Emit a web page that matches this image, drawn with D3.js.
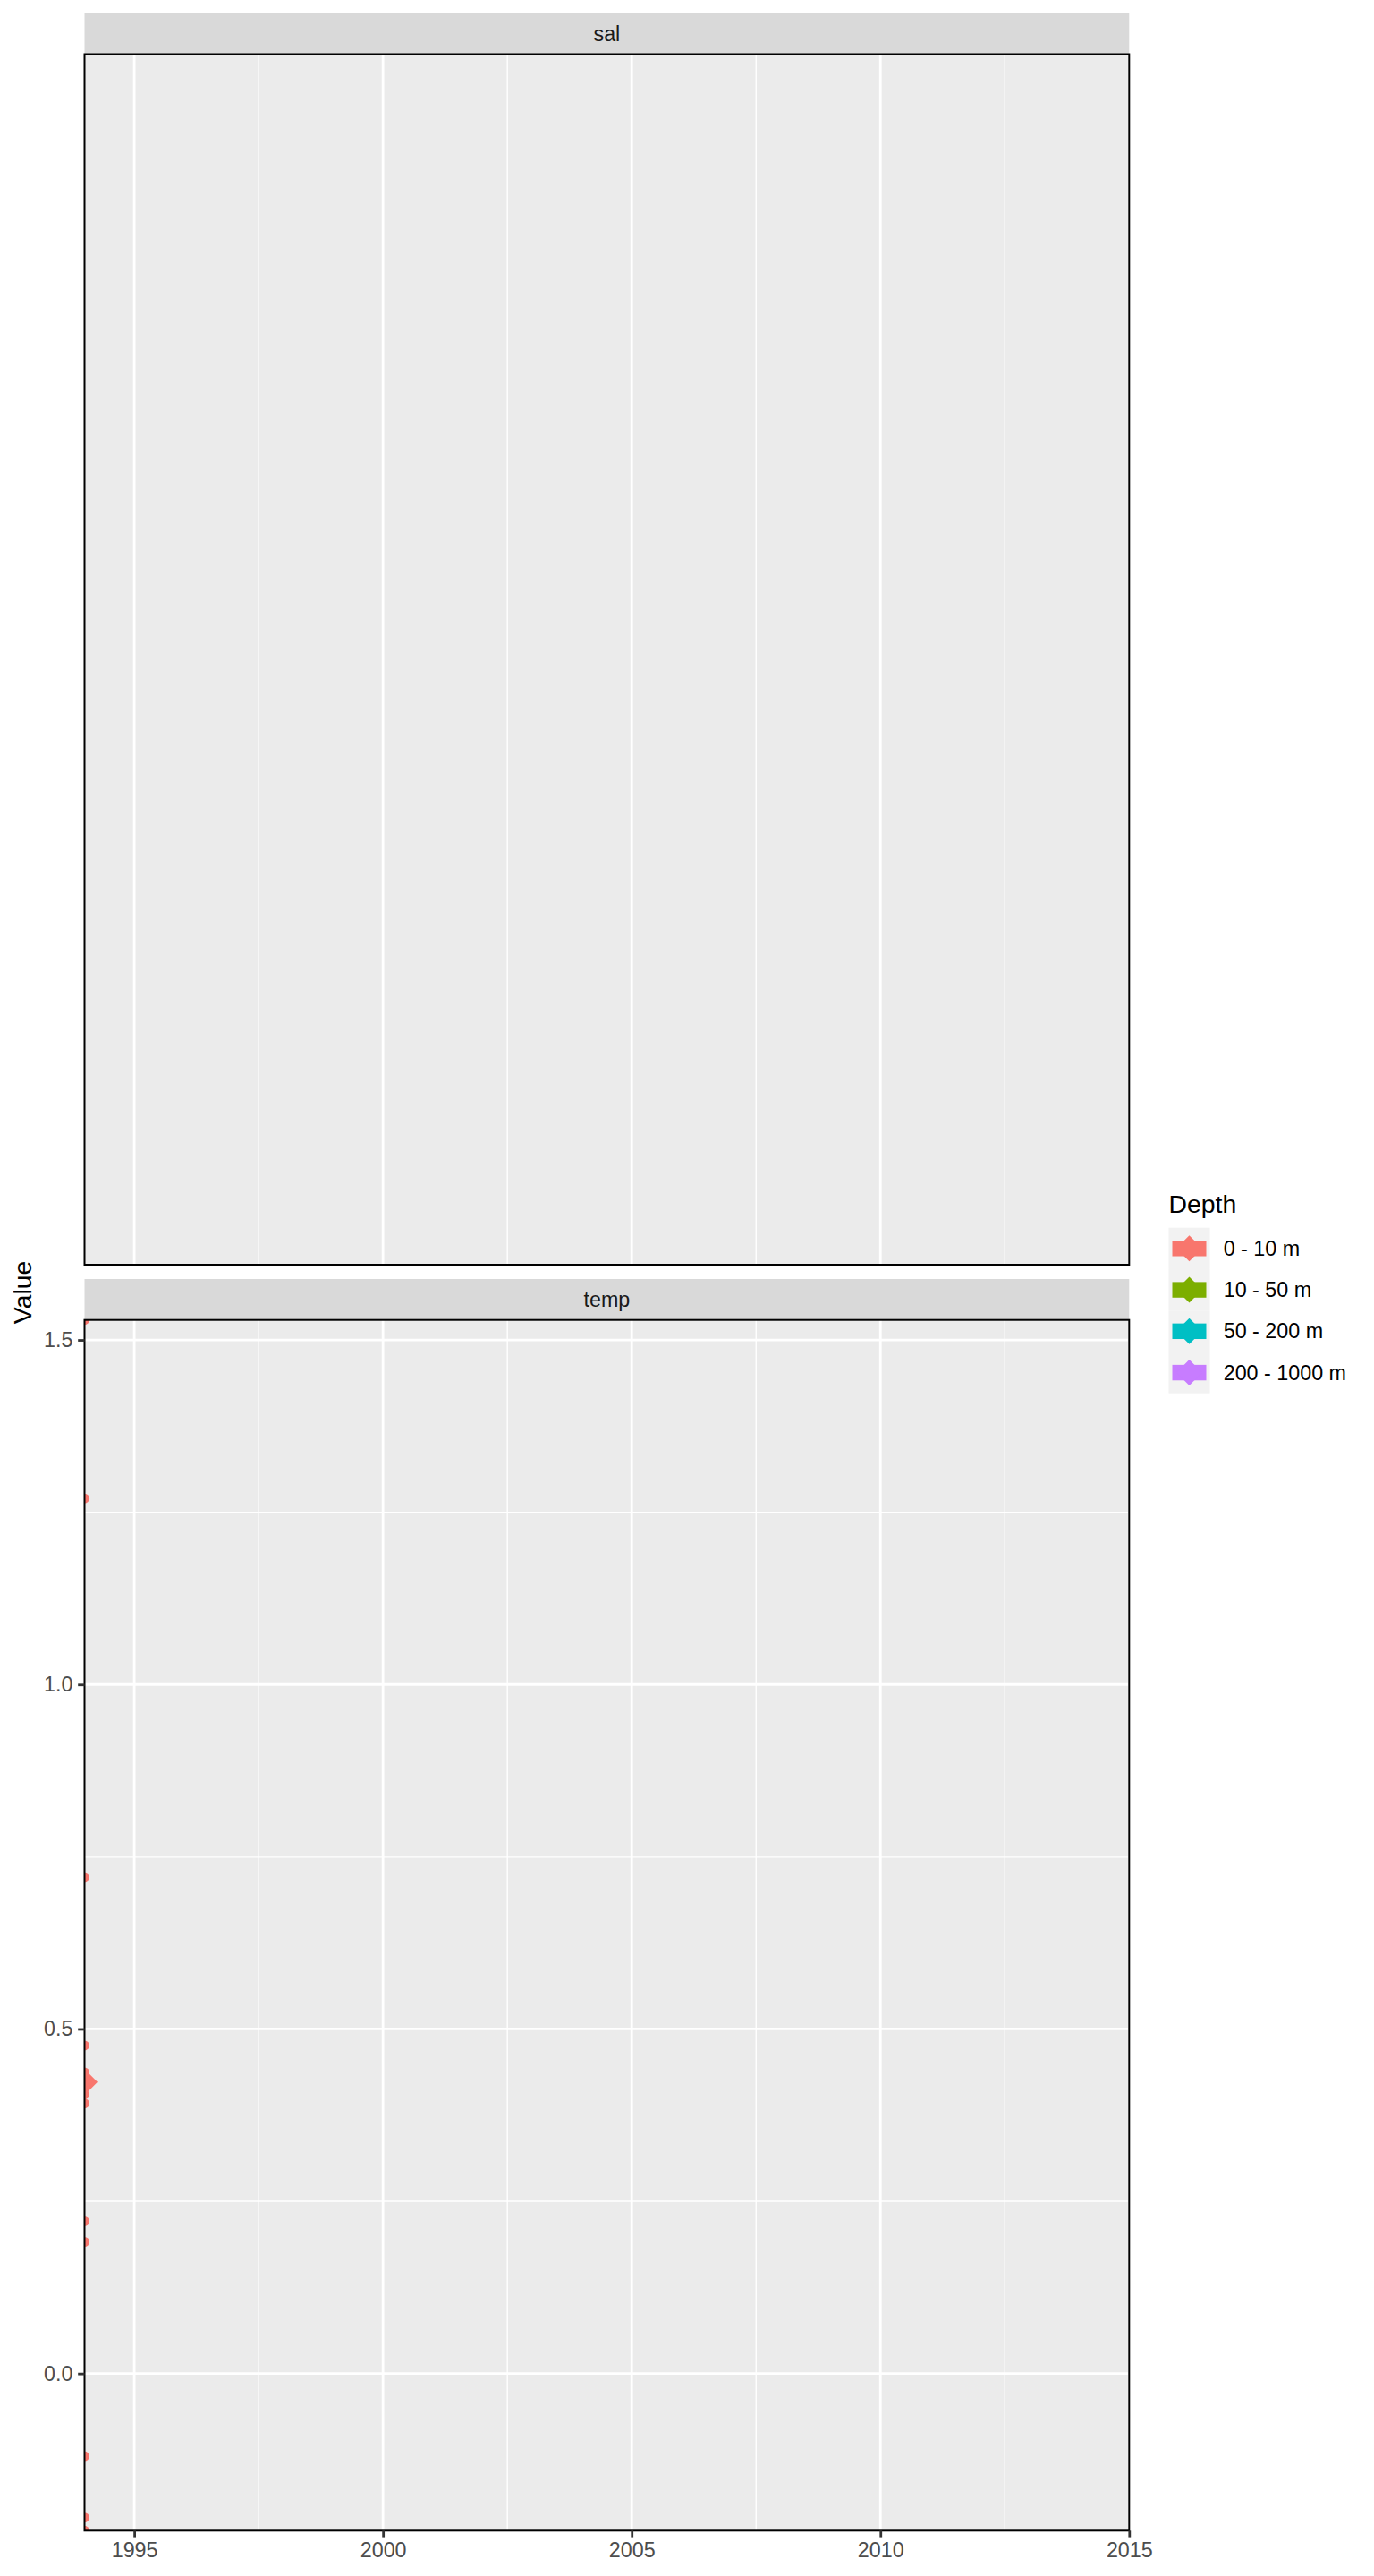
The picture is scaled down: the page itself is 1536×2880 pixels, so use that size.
<!DOCTYPE html>
<html>
<head>
<meta charset="utf-8">
<script src="https://cdn.jsdelivr.net/npm/d3@7"></script>
<style>
  html, body { margin: 0; padding: 0; background: #ffffff; }
  svg { display: block; font-family: "Liberation Sans", Arial, Helvetica, sans-serif; }
</style>
</head>
<body>
<div id="chart"></div>
<script>
// ---------------- data ----------------
const panelNames = ["sal", "temp"];
const depthLevels = ["0 - 10 m", "10 - 50 m", "50 - 200 m", "200 - 1000 m"];
const xDomainYears = [1994, 2015];
const xTickYears = [1995, 2000, 2005, 2010, 2015];
const yTickValues = [0.0, 0.5, 1.0, 1.5];
// temp, depth "0 - 10 m", all observations at the start of 1994
const tempYear = 1994;
const tempValues = [1.529, 1.270, 0.720, 0.476, 0.437, 0.405, 0.392, 0.221, 0.191, -0.120, -0.209, -0.228];
const tempMeanValue = [0.423];
// sal has no observations
const salValues = [];

// ---------------- styles ----------------
const palette = ["#F8766D", "#7CAE00", "#00BFC4", "#C77CFF"];
const W = 1536, H = 2880;
const panelX0 = 94.5, panelX1 = 1262.3;
const stripH = 45.5;
const salStripTop = 15, salPanelTop = 60.5, salPanelBottom = 1414;
const tempStripTop = 1430, tempPanelTop = 1475.7, tempPanelBottom = 2829.3;
const fontSmall = 23.3, fontLarge = 28.4;
const majorW = 2.8, minorW = 1.4, tickLen = 7.3, tickPad = 5.8;

const svg = d3.select("#chart").append("svg")
  .attr("width", W).attr("height", H)
  .attr("viewBox", `0 0 ${W} ${H}`);
svg.append("rect").attr("width", W).attr("height", H).attr("fill", "#ffffff");

const x = d3.scaleLinear().domain(xDomainYears).range([panelX0, panelX1]);
const yTemp = d3.scaleLinear().domain(d3.extent(tempValues)).range([tempPanelBottom, tempPanelTop]);

const midpoints = arr => arr.slice(1).map((v, i) => (v + arr[i]) / 2);
const xMinor = [xTickYears[0] - 2.5].concat(midpoints(xTickYears)).filter(v => v >= xDomainYears[0] && v <= xDomainYears[1]);
const yDom = yTemp.domain();
const yMinor = [yTickValues[0] - 0.25].concat(midpoints(yTickValues)).concat([yTickValues[yTickValues.length - 1] + 0.25])
  .filter(v => v >= yDom[0] && v <= yDom[1]);

function drawPanel(name, stripTop, top, bottom, yScale, hasY) {
  // strip
  svg.append("rect").attr("x", panelX0).attr("y", stripTop)
    .attr("width", panelX1 - panelX0).attr("height", top - stripTop)
    .attr("fill", "#D9D9D9");
  svg.append("text").attr("x", (panelX0 + panelX1) / 2).attr("y", (stripTop + top) / 2)
    .attr("dy", "0.35em").attr("text-anchor", "middle")
    .attr("font-size", fontSmall).attr("fill", "#1A1A1A").text(name);
  // background
  svg.append("rect").attr("x", panelX0).attr("y", top)
    .attr("width", panelX1 - panelX0).attr("height", bottom - top)
    .attr("fill", "#EBEBEB");
  const g = svg.append("g");
  if (hasY) {
    g.selectAll("line.ymin").data(yMinor).join("line")
      .attr("x1", panelX0).attr("x2", panelX1)
      .attr("y1", d => yScale(d)).attr("y2", d => yScale(d))
      .attr("stroke", "#ffffff").attr("stroke-width", minorW);
  }
  g.selectAll("line.xmin").data(xMinor).join("line")
    .attr("x1", d => x(d)).attr("x2", d => x(d))
    .attr("y1", top).attr("y2", bottom)
    .attr("stroke", "#ffffff").attr("stroke-width", minorW);
  if (hasY) {
    g.selectAll("line.ymaj").data(yTickValues).join("line")
      .attr("x1", panelX0).attr("x2", panelX1)
      .attr("y1", d => yScale(d)).attr("y2", d => yScale(d))
      .attr("stroke", "#ffffff").attr("stroke-width", majorW);
  }
  g.selectAll("line.xmaj").data(xTickYears).join("line")
    .attr("x1", d => x(d)).attr("x2", d => x(d))
    .attr("y1", top).attr("y2", bottom)
    .attr("stroke", "#ffffff").attr("stroke-width", majorW);
}

drawPanel(panelNames[0], salStripTop, salPanelTop, salPanelBottom, null, false);
drawPanel(panelNames[1], tempStripTop, tempPanelTop, tempPanelBottom, yTemp, true);

// clip for temp points
svg.append("clipPath").attr("id", "clipTemp").append("rect")
  .attr("x", panelX0).attr("y", tempPanelTop)
  .attr("width", panelX1 - panelX0).attr("height", tempPanelBottom - tempPanelTop);

const pts = svg.append("g").attr("clip-path", "url(#clipTemp)");
pts.selectAll("circle").data(tempValues).join("circle")
  .attr("cx", x(tempYear)).attr("cy", d => yTemp(d)).attr("r", 5.5)
  .attr("fill", palette[0]);
const diamond = d3.symbol().type(d3.symbolSquare).size(2 * 14.5 * 14.5);
pts.selectAll("path.mean").data(tempMeanValue).join("path")
  .attr("transform", d => `translate(${x(tempYear)},${yTemp(d)}) rotate(45)`)
  .attr("d", diamond).attr("fill", palette[0]);

// panel borders
[[salPanelTop, salPanelBottom], [tempPanelTop, tempPanelBottom]].forEach(([t, b]) => {
  svg.append("rect").attr("x", panelX0).attr("y", t)
    .attr("width", panelX1 - panelX0).attr("height", b - t)
    .attr("fill", "none").attr("stroke", "#000000").attr("stroke-width", 2);
});

// axes
function styleAxis(sel) {
  sel.select(".domain").remove();
  sel.selectAll(".tick line").attr("stroke", "#333333").attr("stroke-width", majorW);
  sel.selectAll(".tick text").attr("fill", "#4D4D4D").attr("font-size", fontSmall)
    .attr("font-family", "Liberation Sans, Arial, sans-serif");
}
svg.append("g").attr("transform", `translate(${panelX0},0)`)
  .call(d3.axisLeft(yTemp).tickValues(yTickValues).tickFormat(d3.format(".1f"))
    .tickSize(tickLen).tickPadding(tickPad))
  .call(styleAxis);
svg.append("g").attr("transform", `translate(0,${tempPanelBottom})`)
  .call(d3.axisBottom(x).tickValues(xTickYears).tickFormat(d3.format("d"))
    .tickSize(tickLen).tickPadding(tickPad))
  .call(styleAxis);

// y axis title
svg.append("text")
  .attr("transform", `translate(25,${(salPanelTop + tempPanelBottom) / 2}) rotate(-90)`)
  .attr("text-anchor", "middle").attr("dy", "0.35em")
  .attr("font-size", fontLarge).attr("fill", "#000000").text("Value");

// legend
const legX = 1306.5, legKeyTop = 1372.7, keyW = 46, keyH = 46.25;
svg.append("text").attr("x", legX).attr("y", 1356)
  .attr("font-size", fontLarge).attr("fill", "#000000").text("Depth");
const leg = svg.append("g");
const keys = leg.selectAll("g").data(depthLevels).join("g")
  .attr("transform", (d, i) => `translate(${legX},${legKeyTop + i * keyH})`);
keys.append("rect").attr("width", keyW).attr("height", keyH).attr("fill", "#F2F2F2");
keys.append("rect").attr("x", 4).attr("y", keyH / 2 - 8.7).attr("width", keyW - 8).attr("height", 17.4)
  .attr("fill", (d, i) => palette[i]);
keys.append("path").attr("transform", `translate(${keyW / 2},${keyH / 2}) rotate(45)`)
  .attr("d", diamond).attr("fill", (d, i) => palette[i]);
keys.append("text").attr("x", 61.2).attr("y", keyH / 2).attr("dy", "0.35em")
  .attr("font-size", fontSmall).attr("fill", "#000000").text(d => d);
</script>
</body>
</html>
